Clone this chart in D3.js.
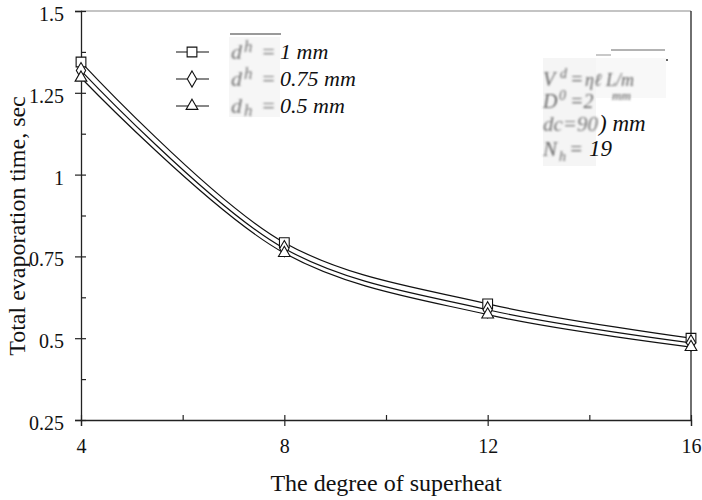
<!DOCTYPE html>
<html>
<head>
<meta charset="utf-8">
<script src="https://cdn.jsdelivr.net/npm/d3@7"></script>
<style>
  html, body { margin: 0; padding: 0; background: #fff; }
  svg { display: block; }
  text { font-family: "Liberation Serif", "Times New Roman", serif; fill: #111; }
</style>
</head>
<body>
<svg id="chart" width="702" height="500"></svg>
<script>
// Degree of superheat (x) and total evaporation time (s) for three hole diameters
const superheat = [4, 8, 12, 16];
const time_1mm   = [1.344, 0.792, 0.605, 0.500];
const time_075mm = [1.318, 0.774, 0.587, 0.486];
const time_05mm  = [1.296, 0.760, 0.572, 0.473];

const seriesNames = ["1 mm", "0.75 mm", "0.5 mm"];
const seriesSymbols = ["square", "diamond", "triangle"];

const yMajorTicks = [0.25, 0.5, 0.75, 1, 1.25, 1.5];
const yMinorTicks = [0.375, 0.625, 0.875, 1.125, 1.375];
const xMajorTicks = [4, 8, 12, 16];
const xMinorTicks = [6, 10, 14];

const svg = d3.select("#chart");
const plotL = 81, plotR = 691, plotT = 11, plotB = 420;

const x = d3.scaleLinear().domain([4, 16]).range([plotL, plotR]);
const y = d3.scaleLinear().domain([0.25, 1.5]).range([plotB, plotT]);

// soft blur for the faded parts of the annotations
const defs = svg.append("defs");
defs.append("filter").attr("id", "soft")
  .append("feGaussianBlur").attr("stdDeviation", 0.9);

// frame: top edge light, right edge dark
svg.append("line").attr("x1", plotL).attr("x2", plotR).attr("y1", plotT).attr("y2", plotT)
  .attr("stroke", "#8a8a8a").attr("stroke-width", 1.2);
svg.append("line").attr("x1", plotR).attr("x2", plotR).attr("y1", plotT).attr("y2", plotB)
  .attr("stroke", "#222").attr("stroke-width", 1.3);

// y axis
const yAxis = svg.append("g").attr("transform", `translate(${plotL},0)`)
  .call(d3.axisLeft(y).tickValues(yMajorTicks).tickSize(6).tickPadding(11)
    .tickFormat(d => String(d)));
yAxis.selectAll(".tick line").attr("x1", 5).attr("x2", -6);
yAxis.selectAll(".tick text").attr("dy", "0.62em").attr("y", -3).attr("font-size", 20)
  .attr("font-family", "Liberation Serif, Times New Roman, serif");
svg.append("g").attr("transform", `translate(${plotL},0)`)
  .call(d3.axisRight(y).tickValues(yMinorTicks).tickSize(5).tickFormat(""))
  .select(".domain").remove();

// x axis
const xAxis = svg.append("g").attr("transform", `translate(0,${plotB})`)
  .call(d3.axisBottom(x).tickValues(xMajorTicks).tickSize(6).tickPadding(13));
xAxis.selectAll(".tick line").attr("y1", -5).attr("y2", 6);
xAxis.selectAll(".tick text").attr("font-size", 20)
  .attr("font-family", "Liberation Serif, Times New Roman, serif");
svg.append("g").attr("transform", `translate(0,${plotB})`)
  .call(d3.axisTop(x).tickValues(xMinorTicks).tickSize(5).tickFormat(""))
  .select(".domain").remove();

svg.selectAll(".domain").attr("stroke", "#222").attr("stroke-width", 1.3);
svg.selectAll(".tick line").attr("stroke", "#222").attr("stroke-width", 1.2);

// axis titles
svg.append("text").attr("x", (plotL + plotR) / 2).attr("y", 491)
  .attr("text-anchor", "middle").attr("font-size", 24).text("The degree of superheat");
svg.append("text").attr("transform", `translate(25,226) rotate(-90)`)
  .attr("text-anchor", "middle").attr("font-size", 24).text("Total evaporation time, sec");

// series
const allSeries = [time_1mm, time_075mm, time_05mm];
const line = d3.line().x((d, i) => x(superheat[i])).y(d => y(d)).curve(d3.curveCatmullRom.alpha(0.5));
const symbolType = { square: d3.symbolSquare, diamond: d3.symbolDiamond, triangle: d3.symbolTriangle };
const symbolSize = { square: 95, diamond: 75, triangle: 60 };

allSeries.forEach(vals => {
  svg.append("path").datum(vals).attr("d", line)
    .attr("fill", "none").attr("stroke", "#111").attr("stroke-width", 1.2);
});
allSeries.forEach((vals, s) => {
  const sym = seriesSymbols[s];
  svg.append("g").selectAll("path").data(vals).join("path")
    .attr("transform", (d, i) => `translate(${x(superheat[i])},${y(d)})`)
    .attr("d", d3.symbol().type(symbolType[sym]).size(symbolSize[sym]))
    .attr("fill", "#fff").attr("stroke", "#111").attr("stroke-width", 1.1);
});

// legend
const legendRows = [52, 79, 106];
const legend = svg.append("g");
legend.append("rect").attr("x", 229).attr("y", 37).attr("width", 51).attr("height", 80).attr("fill", "#f6f6f6");
legend.append("line").attr("x1", 230).attr("x2", 281).attr("y1", 34).attr("y2", 34)
  .attr("stroke", "#9a9a9a").attr("stroke-width", 2);
seriesNames.forEach((name, s) => {
  const yy = legendRows[s];
  const sym = seriesSymbols[s];
  legend.append("line").attr("x1", 176).attr("x2", 209).attr("y1", yy).attr("y2", yy)
    .attr("stroke", "#111").attr("stroke-width", 1.1);
  legend.append("path").attr("transform", `translate(192,${yy})`)
    .attr("d", d3.symbol().type(symbolType[sym]).size(symbolSize[sym]))
    .attr("fill", "#fff").attr("stroke", "#111").attr("stroke-width", 1.1);
  const faded = legend.append("text").attr("y", yy + 7)
    .attr("font-size", 22).attr("font-style", "italic").attr("filter", "url(#soft)")
    .style("fill", "#777");
  faded.append("tspan").attr("x", 231).text("d");
  faded.append("tspan").attr("x", 244).attr("font-size", 17).attr("dy", s === 2 ? 3 : -7).text("h");
  faded.append("tspan").attr("x", 261).attr("dy", s === 2 ? -3 : 7).text("=");
  legend.append("text").attr("x", 280).attr("y", yy + 7)
    .attr("font-size", 22).attr("font-style", "italic").text(name);
});

// operating conditions
const info = svg.append("g");
info.append("rect").attr("x", 543).attr("y", 58).attr("width", 53).attr("height", 108).attr("fill", "#f5f5f5");
info.append("rect").attr("x", 596).attr("y", 58).attr("width", 70).attr("height", 40).attr("fill", "#f8f8f8");
info.append("line").attr("x1", 611).attr("x2", 665).attr("y1", 50).attr("y2", 50)
  .attr("stroke", "#9a9a9a").attr("stroke-width", 1.6);
info.append("line").attr("x1", 596).attr("x2", 611).attr("y1", 55).attr("y2", 55)
  .attr("stroke", "#bbb").attr("stroke-width", 1.6);
info.append("circle").attr("cx", 667).attr("cy", 60).attr("r", 1).attr("fill", "#333");

const t1 = info.append("text").attr("y", 86).attr("font-size", 20)
  .attr("font-style", "italic").attr("filter", "url(#soft)").style("fill", "#666");
t1.append("tspan").attr("x", 543).text("V");
t1.append("tspan").attr("x", 560).attr("font-size", 14).attr("dy", -8).text("d");
t1.append("tspan").attr("x", 570).attr("dy", 8).text("=");
t1.append("tspan").attr("x", 585).attr("font-size", 18).text("\u03b7\u2113 L/m");
info.append("text").attr("x", 612).attr("y", 100).attr("font-size", 13)
  .attr("font-style", "italic").attr("filter", "url(#soft)").style("fill", "#555").text("mm");

const t2 = info.append("text").attr("y", 108).attr("font-size", 20)
  .attr("font-style", "italic").attr("filter", "url(#soft)").style("fill", "#666");
t2.append("tspan").attr("x", 543).text("D");
t2.append("tspan").attr("x", 559).attr("font-size", 14).attr("dy", -8).text("0");
t2.append("tspan").attr("x", 570).attr("dy", 8).text("=2");

info.append("text").attr("x", 543).attr("y", 131).attr("font-size", 21)
  .attr("font-style", "italic").attr("filter", "url(#soft)").style("fill", "#777").text("dc=90");
info.append("text").attr("x", 599).attr("y", 131).attr("font-size", 23)
  .attr("font-style", "italic").text(") mm");

const t4 = info.append("text").attr("y", 156).attr("font-size", 21)
  .attr("font-style", "italic").attr("filter", "url(#soft)").style("fill", "#666");
t4.append("tspan").attr("x", 543).text("N");
t4.append("tspan").attr("x", 559).attr("font-size", 14).attr("dy", 5).text("h");
t4.append("tspan").attr("x", 569).attr("dy", -5).text("=");
info.append("text").attr("x", 589).attr("y", 156).attr("font-size", 23)
  .attr("font-style", "italic").text("19");
</script>
</body>
</html>
